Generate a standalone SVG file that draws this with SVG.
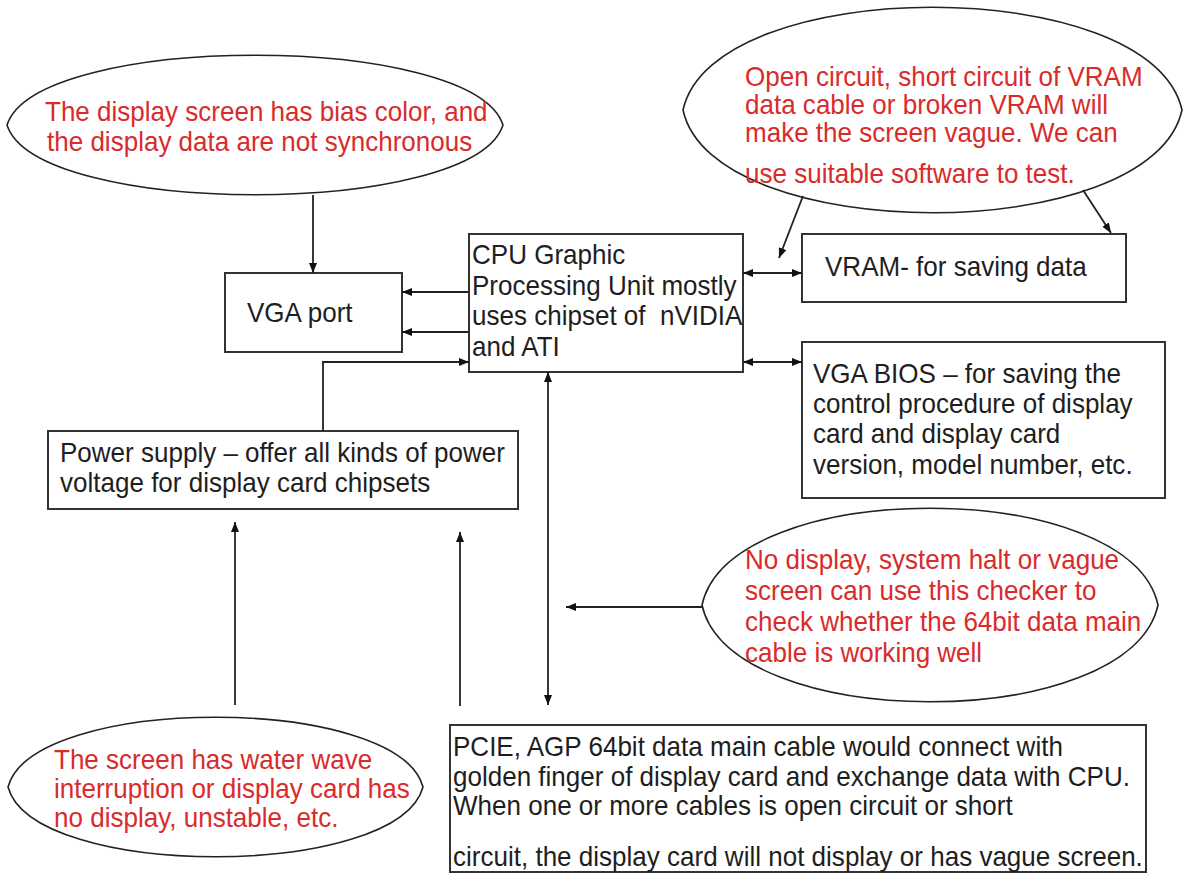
<svg xmlns="http://www.w3.org/2000/svg" width="1184" height="873" viewBox="0 0 1184 873">
<style>
.box{fill:#fff;stroke:#333;stroke-width:2}
.ell{fill:#fff;stroke:#222;stroke-width:1.6}
.t{font-family:"Liberation Sans",Arial,sans-serif;font-size:28px;fill:#1e1e1e;white-space:pre}
.r{font-family:"Liberation Sans",Arial,sans-serif;font-size:28px;fill:#d92b2b;white-space:pre}
.c{fill:none;stroke:#222;stroke-width:1.8}
</style>
<defs>
<marker id="arr" viewBox="0 0 10 8" refX="10" refY="4" markerWidth="10" markerHeight="8" markerUnits="userSpaceOnUse" orient="auto-start-reverse">
<path d="M0,0 L10,4 L0,8 z" fill="#111"/>
</marker>
</defs>
<rect width="1184" height="873" fill="#fff"/>

<g id="ellipse-bias">
<path class="ell" d="M7,125 C37,32 473,32 503,125 C473,218 37,218 7,125 Z"/>
<text class="r" transform="translate(45 121) scale(0.93 1)">The display screen has bias color, and</text>
<text class="r" transform="translate(47 151) scale(0.93 1)">the display data are not synchronous</text>
</g>

<g id="ellipse-vram">
<path class="ell" d="M683,110 C713,-27 1152,-27 1182,110 C1152,247 713,247 683,110 Z"/>
<text class="r" transform="translate(745 86) scale(0.93 1)">Open circuit, short circuit of VRAM</text>
<text class="r" transform="translate(745 114) scale(0.93 1)">data cable or broken VRAM will</text>
<text class="r" transform="translate(745 142) scale(0.93 1)">make the screen vague. We can</text>
<text class="r" transform="translate(745 183) scale(0.93 1)">use suitable software to test.</text>
</g>

<g id="vga-port">
<rect class="box" x="225" y="273" width="177" height="79"/>
<text class="t" transform="translate(247 322) scale(0.93 1)">VGA port</text>
</g>

<g id="cpu">
<rect class="box" x="469" y="234" width="274" height="138"/>
<text class="t" transform="translate(472 264) scale(0.93 1)">CPU Graphic</text>
<text class="t" transform="translate(472 295) scale(0.93 1)">Processing Unit mostly</text>
<text class="t" transform="translate(472 325) scale(0.93 1)">uses chipset of  nVIDIA</text>
<text class="t" transform="translate(472 356) scale(0.93 1)">and ATI</text>
</g>

<g id="vram">
<rect class="box" x="802" y="234" width="324" height="68"/>
<text class="t" transform="translate(825 276) scale(0.93 1)">VRAM- for saving data</text>
</g>

<g id="vga-bios">
<rect class="box" x="802" y="342" width="363" height="156"/>
<text class="t" transform="translate(813 383) scale(0.93 1)">VGA BIOS – for saving the</text>
<text class="t" transform="translate(813 413) scale(0.93 1)">control procedure of display</text>
<text class="t" transform="translate(813 443) scale(0.93 1)">card and display card</text>
<text class="t" transform="translate(813 474) scale(0.93 1)">version, model number, etc.</text>
</g>

<g id="power-supply">
<rect class="box" x="48" y="431" width="470" height="78"/>
<text class="t" transform="translate(60 462) scale(0.93 1)">Power supply – offer all kinds of power</text>
<text class="t" transform="translate(60 492) scale(0.93 1)">voltage for display card chipsets</text>
</g>

<g id="ellipse-checker">
<path class="ell" d="M702,605 C730,476 1130,476 1158,605 C1130,734 730,734 702,605 Z"/>
<text class="r" transform="translate(745 569) scale(0.93 1)">No display, system halt or vague</text>
<text class="r" transform="translate(745 600) scale(0.93 1)">screen can use this checker to</text>
<text class="r" transform="translate(745 631) scale(0.93 1)">check whether the 64bit data main</text>
<text class="r" transform="translate(745 662) scale(0.93 1)">cable is working well</text>
</g>

<g id="ellipse-water">
<path class="ell" d="M8,787 C33,694 398,694 423,787 C398,880 33,880 8,787 Z"/>
<text class="r" transform="translate(54 769) scale(0.93 1)">The screen has water wave</text>
<text class="r" transform="translate(54 798) scale(0.93 1)">interruption or display card has</text>
<text class="r" transform="translate(54 827) scale(0.93 1)">no display, unstable, etc.</text>
</g>

<g id="pcie">
<rect class="box" x="450" y="725" width="696" height="147"/>
<text class="t" transform="translate(453 756) scale(0.93 1)">PCIE, AGP 64bit data main cable would connect with</text>
<text class="t" transform="translate(453 786) scale(0.93 1)">golden finger of display card and exchange data with CPU.</text>
<text class="t" transform="translate(453 815) scale(0.93 1)">When one or more cables is open circuit or short</text>
<text class="t" transform="translate(453 866) scale(0.93 1)">circuit, the display card will not display or has vague screen.</text>
</g>

<g id="connectors">
<line class="c" x1="313" y1="195" x2="313" y2="273" marker-end="url(#arr)"/>
<line class="c" x1="469" y1="292" x2="402" y2="292" marker-end="url(#arr)"/>
<line class="c" x1="469" y1="332" x2="402" y2="332" marker-end="url(#arr)"/>
<polyline class="c" points="323,431 323,362 469,362" marker-end="url(#arr)"/>
<line class="c" x1="743" y1="273" x2="802" y2="273" marker-start="url(#arr)" marker-end="url(#arr)"/>
<line class="c" x1="743" y1="362" x2="802" y2="362" marker-start="url(#arr)" marker-end="url(#arr)"/>
<line class="c" x1="803" y1="196" x2="779" y2="258" marker-end="url(#arr)"/>
<line class="c" x1="1083" y1="190" x2="1111" y2="233" marker-end="url(#arr)"/>
<line class="c" x1="548" y1="372" x2="548" y2="705" marker-start="url(#arr)" marker-end="url(#arr)"/>
<line class="c" x1="703" y1="607" x2="566" y2="607" marker-end="url(#arr)"/>
<line class="c" x1="235" y1="705" x2="235" y2="522" marker-end="url(#arr)"/>
<line class="c" x1="460" y1="706" x2="460" y2="532" marker-end="url(#arr)"/>
</g>
</svg>
